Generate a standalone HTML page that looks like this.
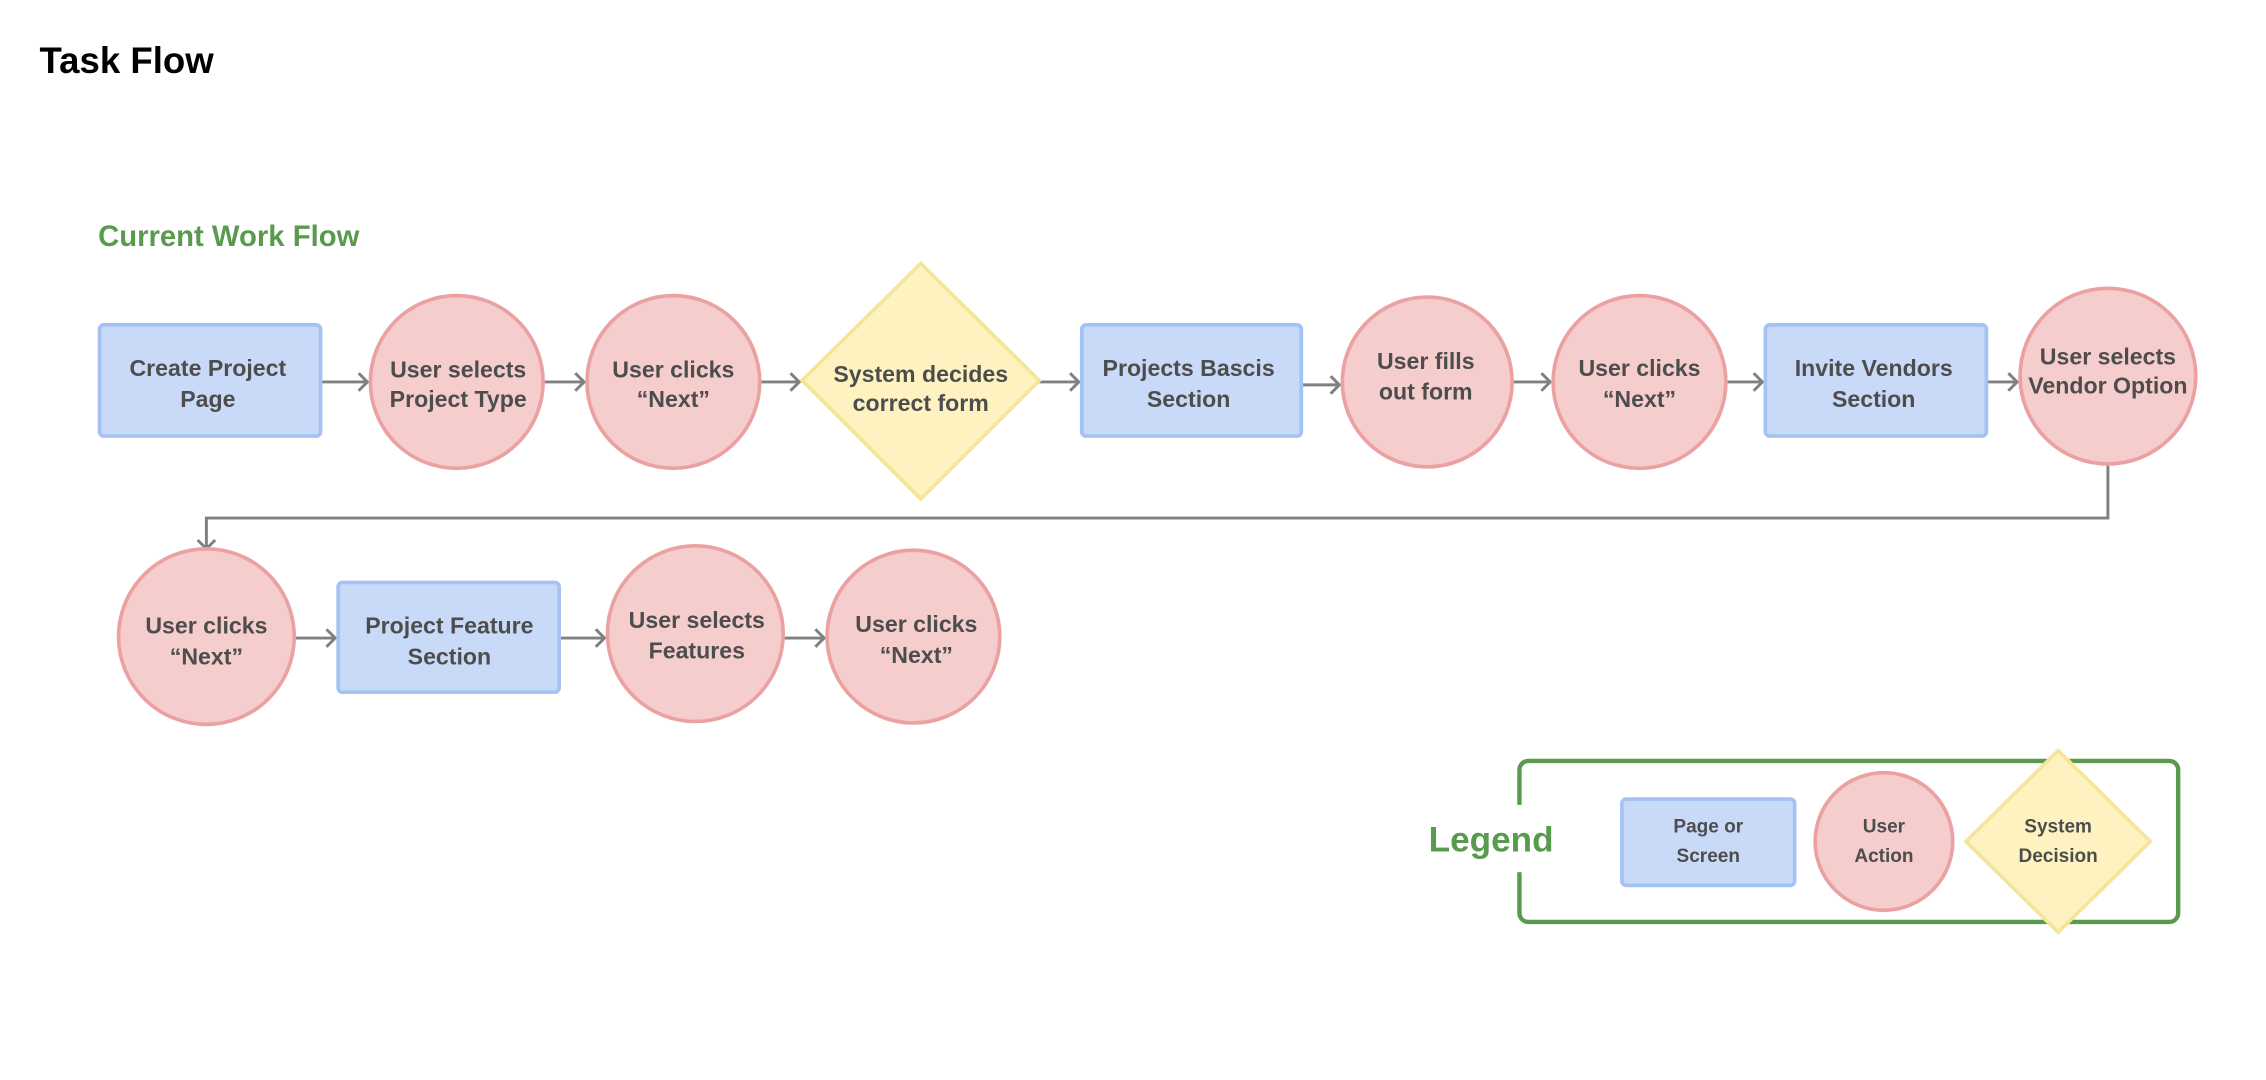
<!DOCTYPE html>
<html><head><meta charset="utf-8"><style>
html,body{margin:0;padding:0;background:#fff;}
svg{display:block;}
text{font-family:"Liberation Sans",sans-serif;font-weight:bold;}
.t{fill:#4d4d4d;font-size:15.8px;text-anchor:middle;}
.l{fill:#4d4d4d;font-size:13px;text-anchor:middle;}
.r{fill:#c9daf8;stroke:#a4c2f4;stroke-width:2.5;}
.c{fill:#f6cdcd;stroke:#eba1a1;stroke-width:2.5;}
.d{fill:#fff2c1;stroke:#f5e598;stroke-width:2.5;}
.a{stroke:#808080;stroke-width:2;fill:none;}
</style></head><body>
<svg width="2266" height="1080" viewBox="0 0 1548 738" preserveAspectRatio="none" xmlns="http://www.w3.org/2000/svg">
<text x="27" y="50" style="font-size:25px;fill:#000">Task Flow</text>
<text x="67" y="168" style="font-size:20px;fill:#5a9a4e">Current Work Flow</text>

<g class="a">
<path d="M219 261H251M245 255l6 6-6 6"/>
<path d="M371 261H399M393 255l6 6-6 6"/>
<path d="M519 261H546M540 255l6 6-6 6"/>
<path d="M710 261H737M731 255l6 6-6 6"/>
<path d="M889 263H915M909 257l6 6-6 6"/>
<path d="M1033 261H1059M1053 255l6 6-6 6"/>
<path d="M1179 261H1204M1198 255l6 6-6 6"/>
<path d="M1357 261H1378M1372 255l6 6-6 6"/>
<path d="M1440 317V354H141V375M135 369l6 6 6-6"/>
<path d="M201 436H229M223 430l6 6-6 6"/>
<path d="M382 436H413M407 430l6 6-6 6"/>
<path d="M535 436H563M557 430l6 6-6 6"/>
</g>

<rect class="r" x="68" y="222" width="151" height="76" rx="3"/>
<text class="t" x="142" y="257">Create Project</text><text class="t" x="142" y="278">Page</text>
<circle class="c" cx="312" cy="261" r="59"/>
<text class="t" x="313" y="258">User selects</text><text class="t" x="313" y="278">Project Type</text>
<circle class="c" cx="460" cy="261" r="59"/>
<text class="t" x="460" y="258">User clicks</text><text class="t" x="460" y="278">“Next”</text>
<path class="d" d="M629 180L710 260L629 341L548 260Z"/>
<text class="t" x="629" y="261">System decides</text><text class="t" x="629" y="281">correct form</text>
<rect class="r" x="739" y="222" width="150" height="76" rx="3"/>
<text class="t" x="812" y="257">Projects Bascis</text><text class="t" x="812" y="278">Section</text>
<circle class="c" cx="975" cy="261" r="58"/>
<text class="t" x="974" y="252">User fills</text><text class="t" x="974" y="273">out form</text>
<circle class="c" cx="1120" cy="261" r="59"/>
<text class="t" x="1120" y="257">User clicks</text><text class="t" x="1120" y="278">“Next”</text>
<rect class="r" x="1206" y="222" width="151" height="76" rx="3"/>
<text class="t" x="1280" y="257">Invite Vendors</text><text class="t" x="1280" y="278">Section</text>
<circle class="c" cx="1440" cy="257" r="60"/>
<text class="t" x="1440" y="249">User selects</text><text class="t" x="1440" y="269">Vendor Option</text>

<circle class="c" cx="141" cy="435" r="60"/>
<text class="t" x="141" y="433">User clicks</text><text class="t" x="141" y="454">“Next”</text>
<rect class="r" x="231" y="398" width="151" height="75" rx="3"/>
<text class="t" x="307" y="433">Project Feature</text><text class="t" x="307" y="454">Section</text>
<circle class="c" cx="475" cy="433" r="60"/>
<text class="t" x="476" y="429">User selects</text><text class="t" x="476" y="450">Features</text>
<circle class="c" cx="624" cy="435" r="59"/>
<text class="t" x="626" y="432">User clicks</text><text class="t" x="626" y="453">“Next”</text>

<rect x="1038" y="520" width="450" height="110" rx="6" fill="none" stroke="#5a9a4e" stroke-width="3"/>
<rect x="1030" y="550" width="40" height="46" fill="#fff"/>
<text x="976" y="582" style="font-size:24px;fill:#5a9a4e">Legend</text>
<rect class="r" x="1108" y="546" width="118" height="59" rx="3"/>
<text class="l" x="1167" y="569">Page or</text><text class="l" x="1167" y="589">Screen</text>
<circle class="c" cx="1287" cy="575" r="47"/>
<text class="l" x="1287" y="569">User</text><text class="l" x="1287" y="589">Action</text>
<path class="d" d="M1406 513L1469 575L1406 637L1343 575Z"/>
<text class="l" x="1406" y="569">System</text><text class="l" x="1406" y="589">Decision</text>
</svg>
</body></html>
